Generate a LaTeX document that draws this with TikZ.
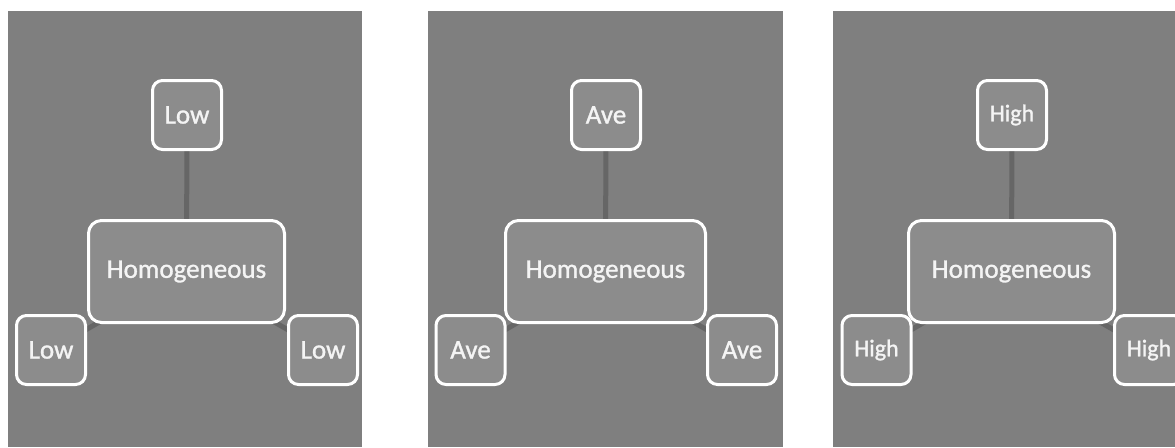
\documentclass[tikz,border=0pt]{standalone}
\usepackage{fontspec}
\setmainfont{Carlito}
\newfontfamily\boxfont{Carlito}[FakeBold=1.2]
\usetikzlibrary{backgrounds}
\definecolor{panelgray}{HTML}{7F7F7F}
\definecolor{boxgray}{HTML}{8C8C8C}
\definecolor{linkgray}{HTML}{666666}
\definecolor{textwhite}{HTML}{F4F4F4}
\tikzset{
  panel/.style={fill=panelgray, draw=none},
  smallbox/.style={draw=white, fill=boxgray, line width=3pt, rounded corners=10pt,
    minimum width=69pt, minimum height=69pt, inner sep=0pt, text=textwhite,
    font=\boxfont\fontsize{27}{30}\selectfont},
  smallboxh/.style={smallbox, font=\boxfont\fontsize{24}{28}\selectfont},
  bigbox/.style={draw=white, fill=boxgray, line width=3pt, rounded corners=13pt,
    minimum height=102pt, inner sep=0pt, text=textwhite,
    font=\boxfont\fontsize{27}{30}\selectfont},
  link/.style={draw=linkgray, line width=5pt}
}
\begin{document}
\begin{tikzpicture}[x=1pt,y=-1pt]
\useasboundingbox (0,0) rectangle (1175,447);
\begin{pgfonlayer}{background}
\fill[white] (0,0) rectangle (1175,447);
\path[panel] (8,11) rectangle (362,447);
\path[panel] (428,11) rectangle (783,447);
\path[panel] (833,11) rectangle (1175,447);
\end{pgfonlayer}
% panel 1
\node[smallbox] (t1) at (187,115) {Low};
\node[bigbox, minimum width=196pt] (h1) at (186.5,271.5) {Homogeneous};
\node[smallbox] (l1) at (51,350) {Low};
\node[smallbox] (r1) at (323,350) {Low};
% panel 2
\node[smallbox] (t2) at (606,115) {Ave};
\node[bigbox, minimum width=200pt] (h2) at (605.5,271.5) {Homogeneous};
\node[smallbox] (l2) at (470.5,350) {Ave};
\node[smallbox] (r2) at (742,350) {Ave};
% panel 3
\node[smallboxh] (t3) at (1012,115) {High};
\node[bigbox, minimum width=206pt] (h3) at (1011.5,271.5) {Homogeneous};
\node[smallboxh] (l3) at (876.5,350) {High};
\node[smallboxh] (r3) at (1149,350) {High};
\begin{pgfonlayer}{background}
\foreach \i in {1,2,3}{
  \draw[link] (t\i.center) -- (h\i.center);
  \draw[link] (h\i.center) -- (l\i.center);
  \draw[link] (h\i.center) -- (r\i.center);
}
\end{pgfonlayer}
\end{tikzpicture}
\end{document}
